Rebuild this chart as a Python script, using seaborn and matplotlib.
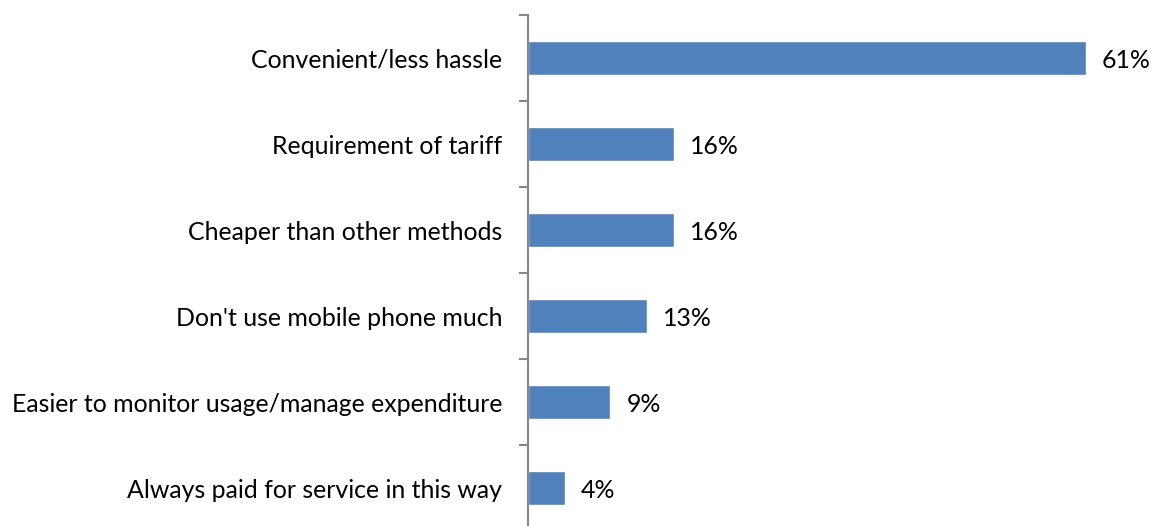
import matplotlib
matplotlib.use("Agg")
import matplotlib.pyplot as plt
import seaborn as sns
import pandas as pd

categories = [
    "Convenient/less hassle",
    "Requirement of tariff",
    "Cheaper than other methods",
    "Don't use mobile phone much",
    "Easier to monitor usage/manage expenditure",
    "Always paid for service in this way",
]
values = [61, 16, 16, 13, 9, 4]

df = pd.DataFrame({"reason": categories, "pct": values})

sns.set_style("white")
plt.rcParams["font.family"] = ["Lato", "DejaVu Sans"]

W, H = 1151, 526
fig = plt.figure(figsize=(W / 100, H / 100), dpi=100)
ax = fig.add_axes([528 / W, (H - 531) / H, 622 / W, 516 / H])

sns.barplot(data=df, x="pct", y="reason", orient="h", color="#4F81BD",
            saturation=1, width=0.4, ax=ax)

ax.set_xlim(0, 68)
ax.set_ylim(len(categories) - 0.5, -0.5)
ax.set_xlabel("")
ax.set_ylabel("")
ax.set_xticks([])

for s in ["top", "right", "bottom"]:
    ax.spines[s].set_visible(False)
ax.spines["left"].set_color("#868686")
ax.spines["left"].set_linewidth(1.5)

# category boundaries carry the tick marks, labels sit at bar centres
ax.set_yticks([i + 0.5 for i in range(-1, len(categories))], minor=False)
ax.set_yticklabels([])
ax.tick_params(axis="y", which="major", left=True, direction="out",
               length=6.5, width=1.5, color="#868686")
ax.set_yticks(range(len(categories)), minor=True)
ax.set_yticklabels(categories, minor=True)
ax.tick_params(axis="y", which="minor", left=True, length=0, pad=18.5,
               labelsize=17.9, labelcolor="black")

for i, v in enumerate(values):
    ax.text(v + 1.75, i + 0.03, f"{v}%", va="center", ha="left",
            fontsize=17.9, color="black")

fig.savefig("out.png", dpi=100)
